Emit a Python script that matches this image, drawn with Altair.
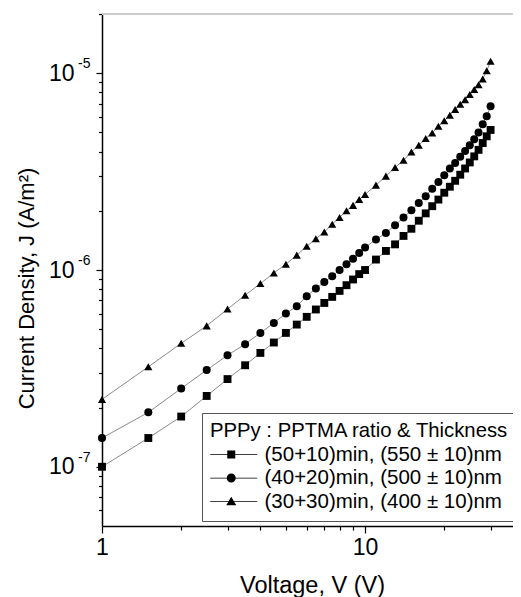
import altair as alt
import pandas as pd

# ---------------- data ----------------
V = [1, 1.5, 2, 2.5, 3, 3.5, 4, 4.5, 5, 5.5, 6, 6.5, 7, 7.5, 8, 8.5, 9, 9.5, 10,
     11, 12, 13, 14, 15, 16, 17, 18, 19, 20, 21, 22, 23, 24, 25, 26, 27, 28, 29, 30]

J_50_10 = [1.0e-7, 1.40e-7, 1.80e-7, 2.29e-7, 2.79e-7, 3.28e-7, 3.79e-7, 4.28e-7, 4.79e-7, 5.28e-7,
           5.78e-7, 6.30e-7, 6.80e-7, 7.30e-7, 7.83e-7, 8.37e-7, 8.95e-7, 9.53e-7, 1.0e-6,
           1.13e-6, 1.25e-6, 1.35e-6, 1.49e-6, 1.62e-6, 1.78e-6, 1.94e-6, 2.11e-6, 2.28e-6, 2.47e-6,
           2.65e-6, 2.84e-6, 3.05e-6, 3.28e-6, 3.52e-6, 3.78e-6, 4.08e-6, 4.42e-6, 4.78e-6, 5.15e-6]

J_40_20 = [1.40e-7, 1.89e-7, 2.50e-7, 3.10e-7, 3.69e-7, 4.20e-7, 4.79e-7, 5.38e-7, 6.01e-7, 6.55e-7,
           7.36e-7, 8.05e-7, 8.70e-7, 9.30e-7, 1.0e-6, 1.07e-6, 1.14e-6, 1.22e-6, 1.30e-6,
           1.43e-6, 1.54e-6, 1.69e-6, 1.85e-6, 2.01e-6, 2.19e-6, 2.37e-6, 2.59e-6, 2.80e-6, 3.03e-6,
           3.28e-6, 3.50e-6, 3.76e-6, 4.03e-6, 4.30e-6, 4.62e-6, 5.00e-6, 5.50e-6, 6.05e-6, 6.80e-6]

J_30_30 = [2.20e-7, 3.22e-7, 4.24e-7, 5.20e-7, 6.33e-7, 7.45e-7, 8.53e-7, 9.66e-7, 1.07e-6, 1.19e-6,
           1.32e-6, 1.44e-6, 1.56e-6, 1.71e-6, 1.85e-6, 2.00e-6, 2.13e-6, 2.28e-6, 2.42e-6,
           2.70e-6, 3.00e-6, 3.32e-6, 3.61e-6, 3.98e-6, 4.30e-6, 4.66e-6, 4.97e-6, 5.38e-6, 5.73e-6,
           6.12e-6, 6.54e-6, 6.95e-6, 7.34e-6, 7.79e-6, 8.26e-6, 8.75e-6, 9.35e-6, 1.03e-5, 1.15e-5]

series = ["(50+10)min, (550 ± 10)nm", "(40+20)min, (500 ± 10)nm", "(30+30)min, (400 ± 10)nm"]
legend_title = "PPPy : PPTMA ratio & Thickness"

x_ticks = [1, 2, 3, 4, 5, 6, 7, 8, 9, 10, 20, 30]
y_ticks = [6e-8, 7e-8, 8e-8, 9e-8,
           1e-7, 2e-7, 3e-7, 4e-7, 5e-7, 6e-7, 7e-7, 8e-7, 9e-7,
           1e-6, 2e-6, 3e-6, 4e-6, 5e-6, 6e-6, 7e-6, 8e-6, 9e-6,
           1e-5, 2e-5]
y_major = [1e-7, 1e-6, 1e-5]
y_exp = ["-7", "-6", "-5"]

# ---------------- tables ----------------
rows = []
for name, J in zip(series, [J_50_10, J_40_20, J_30_30]):
    for v, j in zip(V, J):
        rows.append({"V": v, "J": j, "series": name})
df = pd.DataFrame(rows)
exp_df = pd.DataFrame({"J": y_major, "exp": y_exp})

FONT = "Liberation Sans"
X_MAX = 36.5
Y_DOM = [5e-8, 2e-5]

is_major = "abs(log(datum.value)/LN10 - round(log(datum.value)/LN10)) < 0.000001"

x_enc = alt.X(
    "V:Q",
    scale=alt.Scale(type="log", domain=[1, X_MAX], nice=False),
    axis=alt.Axis(
        values=x_ticks,
        labelExpr="datum.value == 1 ? '1' : (datum.value == 10 ? '10' : '')",
        tickSize={"condition": {"test": is_major, "value": 7}, "value": 4},
        tickColor="black", tickWidth=1.2,
        domainColor="black", domainWidth=1.5,
        labelFontSize=23, labelFont=FONT, labelColor="black", labelPadding=3,
        labelFlush=False, labelOverlap=False, grid=False,
        title="Voltage, V (V)", titleFontSize=23.5, titleFont=FONT,
        titleFontWeight="normal", titleColor="black",
        titleX=210, titleY=59, titleBaseline="middle", titleAlign="center",
    ),
)
y_enc = alt.Y(
    "J:Q",
    scale=alt.Scale(type="log", domain=Y_DOM, nice=False),
    axis=alt.Axis(
        values=y_ticks,
        labelExpr=f"{is_major} ? '10' : ''",
        tickSize={"condition": {"test": is_major, "value": 6}, "value": 3.5},
        tickColor="black", tickWidth=1.2,
        domainColor="black", domainWidth=1.5,
        labelFontSize=23, labelFont=FONT, labelColor="black", labelPadding=22,
        labelBaseline="middle", labelOverlap=False, labelFlush=False, grid=False,
        title="Current Density, J (A/m²)", titleFontSize=22, titleFont=FONT,
        titleFontWeight="normal", titleColor="black",
        titleX=-76, titleY=274, titleBaseline="middle", titleAlign="center",
        titleAngle=270,
    ),
)

lines = alt.Chart(df).mark_line(color="#8a8a8a", strokeWidth=1).encode(
    x=x_enc, y=y_enc, detail="series:N", order="V:Q"
)

points = alt.Chart(df).mark_point(filled=True, color="black", opacity=1).encode(
    x="V:Q", y="J:Q",
    shape=alt.Shape("series:N", scale=alt.Scale(domain=series, range=["square", "circle", "triangle-up"]), legend=None),
    size=alt.Size("series:N", scale=alt.Scale(domain=series, range=[62, 66, 100]), legend=None),
)

# legend symbols: short line - marker - short line (unit = 10 px)
legend_paths = [
    "M-1,-0.04H0.7V0.04H-1Z M1.5,-0.04H3.7V0.04H1.5Z M0.7,-0.4H1.5V0.4H0.7Z",
    "M-1,-0.04H0.65V0.04H-1Z M1.55,-0.04H3.7V0.04H1.55Z M0.65,0A0.45,0.45 0 1,0 1.55,0A0.45,0.45 0 1,0 0.65,0Z",
    "M-1,-0.04H0.82V0.04H-1Z M1.38,-0.04H3.7V0.04H1.38Z M1.1,-0.48L1.6,0.38L0.6,0.38Z",
]

legend_layer = alt.Chart(df).transform_filter("datum.V < 0").mark_point(
    filled=True, color="black", opacity=1
).encode(
    x="V:Q", y="J:Q",
    shape=alt.Shape(
        "series:N",
        scale=alt.Scale(domain=series, range=legend_paths),
        legend=alt.Legend(
            title=legend_title, orient="none", legendX=100, legendY=399,
            padding=8, strokeColor="#555", fillColor="white",
            titleFont=FONT, titleFontSize=20.3, titleFontWeight="normal", titleColor="black",
            titlePadding=3, titleLimit=500,
            labelFont=FONT, labelFontSize=20.5, labelColor="black", labelLimit=500,
            labelOffset=34, rowPadding=2.5,
            symbolSize=400, symbolStrokeWidth=0, symbolFillColor="black",
        ),
    ),
)

exponents = alt.Chart(exp_df).mark_text(
    align="left", baseline="middle", dy=-9, fontSize=14, font=FONT, color="black"
).encode(x=alt.value(-24), y="J:Q", text="exp:N")

top_rule = alt.Chart(exp_df).mark_rule(color="#cccccc", strokeWidth=2).encode(
    x=alt.datum(1), x2=alt.datum(X_MAX), y=alt.datum(Y_DOM[1])
)

chart = alt.layer(top_rule, lines, points, legend_layer, exponents).resolve_scale(
    shape="independent", size="independent"
).properties(
    width=411, height=512,
    autosize=alt.AutoSizeParams(type="none"),
    padding={"left": 94, "top": 6, "right": 0, "bottom": 71},
    background="white",
).configure_view(stroke=None)

chart.save("out.html", embed_options={"renderer": "svg", "actions": False})
